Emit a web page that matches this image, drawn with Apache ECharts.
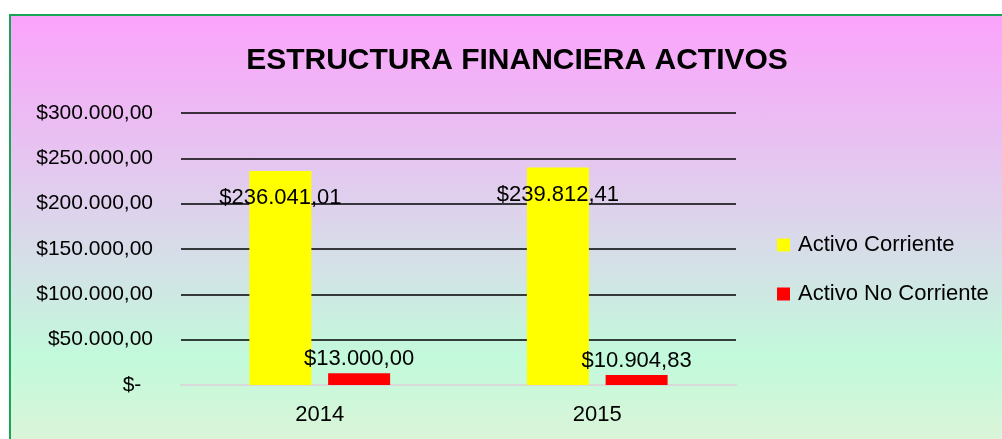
<!DOCTYPE html>
<html>
<head>
<meta charset="utf-8">
<script src="https://cdn.jsdelivr.net/npm/echarts@6/dist/echarts.min.js"></script>
<style>
  html, body { margin: 0; padding: 0; background: #fff; }
  .frame {
    position: absolute; left: 9px; top: 14px; width: 1010px; height: 440px;
    border-left: 2px solid #1aa455; border-top: 2px solid #1aa455;
    background: linear-gradient(to bottom, #fba3fb 0%, #ddd3ec 45%, #c2fadb 78%, #e0f3d8 100%);
  }
  #chart { position: absolute; left: 0; top: 0; width: 1002px; height: 439px; }
</style>
</head>
<body>
<div class="frame"></div>
<div id="chart"></div>
<script>
// datos del grafico
var categories = ["2014", "2015"];
var activoCorriente = [236041.01, 239812.41];
var activoNoCorriente = [13000.00, 10904.83];
var yTicks = [0, 50000, 100000, 150000, 200000, 250000, 300000];

var FONT = "Liberation Sans";

// formato contable: $236.041,01
function money(v) {
  var parts = v.toFixed(2).split(".");
  var ent = parts[0].replace(/\B(?=(\d{3})+(?!\d))/g, ".");
  return "$" + ent + "," + parts[1];
}

var chart = echarts.init(document.getElementById("chart"));
var option = {
  backgroundColor: "transparent",
  animation: false,
  textStyle: { fontFamily: FONT, color: "#000" },
  title: {
    text: "ESTRUCTURA FINANCIERA ACTIVOS",
    left: 512, top: 41, textAlign: "center",
    textStyle: { fontFamily: FONT, fontSize: 30, fontWeight: "bold", color: "#000" }
  },
  legend: {
    orient: "vertical",
    left: 772, top: 229,
    itemWidth: 13, itemHeight: 13, itemGap: 27,
    icon: "rect",
    textStyle: { fontFamily: FONT, fontSize: 22, color: "#000", padding: [0, 0, 0, 3] },
    data: ["Activo Corriente", "Activo No Corriente"]
  },
  grid: { left: 181, right: 266, top: 113, bottom: 54, containLabel: false },
  xAxis: {
    type: "category",
    data: categories,
    axisTick: { show: false },
    axisLine: { lineStyle: { color: "#d9d9d9", width: 2 } },
    axisLabel: { fontFamily: FONT, fontSize: 22, color: "#000", margin: 19 }
  },
  yAxis: {
    type: "value",
    min: yTicks[0], max: yTicks[yTicks.length - 1], interval: 50000,
    axisLine: { show: false },
    axisTick: { show: false },
    splitLine: { lineStyle: { color: "#000", width: 1.5 } },
    axisLabel: {
      fontFamily: FONT, fontSize: 21, color: "#000", margin: 28,
      formatter: function (v) { return v === 0 ? "$-  " : money(v); }
    }
  },
  series: [
    {
      name: "Activo Corriente",
      type: "bar",
      data: activoCorriente,
      barWidth: 62,
      barGap: "27%",
      itemStyle: { color: "#ffff00" },
      label: {
        show: true, position: "insideTop", distance: 16,
        fontFamily: FONT, fontSize: 22, color: "#000",
        formatter: function (p) { return money(p.value); }
      },
      z: 3
    },
    {
      name: "Activo No Corriente",
      type: "bar",
      data: activoNoCorriente,
      barWidth: 62,
      itemStyle: { color: "#ff0000" },
      label: {
        show: true, position: "top", distance: 3,
        fontFamily: FONT, fontSize: 22, color: "#000",
        formatter: function (p) { return money(p.value); }
      },
      z: 3
    }
  ]
};
chart.setOption(option);
</script>
</body>
</html>
